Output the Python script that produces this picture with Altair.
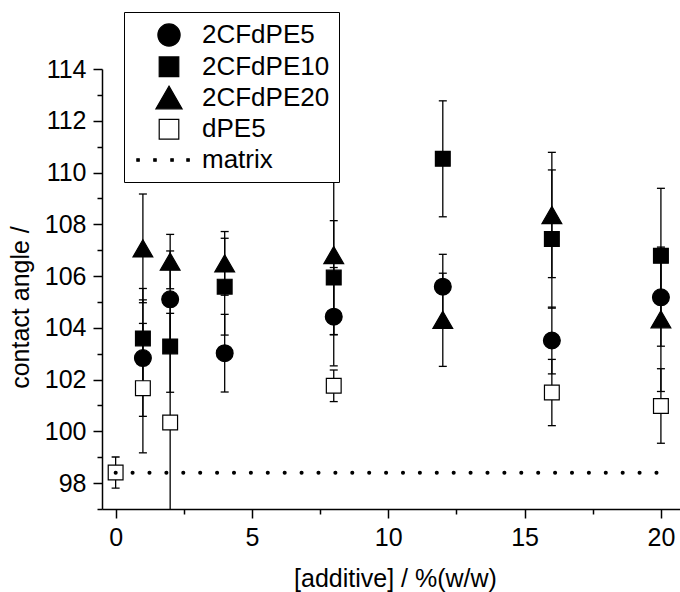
import altair as alt
import pandas as pd

# ---- data ----
series_names = ["2CFdPE5", "2CFdPE10", "2CFdPE20", "dPE5", "matrix"]

x_cf = [1, 2, 4, 8, 12, 16, 20]
y_cf5 = [102.83, 105.10, 103.02, 104.43, 105.59, 103.51, 105.18]
e_cf5 = [2.25, 1.87, 1.50, 1.90, 1.25, 1.29, 1.89]
y_cf10 = [103.59, 103.28, 105.59, 105.94, 110.53, 107.43, 106.78]
e_cf10 = [1.93, 1.77, 1.87, 2.20, 2.24, 2.67, 2.61]
y_cf20 = [107.07, 106.56, 106.49, 106.81, 104.31, 108.36, 104.33]
e_cf20 = [2.10, 1.05, 1.23, 3.08, 1.80, 2.42, 2.79]

x_dpe5 = [0, 1, 2, 8, 16, 20]
y_dpe5 = [98.41, 101.67, 100.34, 101.76, 101.50, 100.98]
e_dpe5 = [0.60, 2.50, 4.22, 0.61, 1.28, 1.44]

matrix_value = 98.4
matrix_x = [0, 20]

x_ticks = [0, 5, 10, 15, 20]
x_minor = [2.5, 7.5, 12.5, 17.5]
y_ticks = [98, 100, 102, 104, 106, 108, 110, 112, 114]
y_minor = [97, 99, 101, 103, 105, 107, 109, 111, 113]

# ---- tables ----
rows = []
for name, xs, ys, es in [
    ("2CFdPE5", x_cf, y_cf5, e_cf5),
    ("2CFdPE10", x_cf, y_cf10, e_cf10),
    ("2CFdPE20", x_cf, y_cf20, e_cf20),
    ("dPE5", x_dpe5, y_dpe5, e_dpe5),
]:
    for xv, yv, ev in zip(xs, ys, es):
        rows.append({"series": name, "x": xv, "y": yv, "lo": yv - ev, "hi": yv + ev})
df = pd.DataFrame(rows)

caps = pd.concat([
    df[["series", "x", "lo"]].rename(columns={"lo": "v"}),
    df[["series", "x", "hi"]].rename(columns={"hi": "v"}),
])

df_matrix = pd.DataFrame({"x": [matrix_x[0]], "x2": [matrix_x[1]], "y": [matrix_value]})

FONT = "Liberation Sans"

# custom symbol paths (unit = sqrt(size)/2)
circle_path = "M0.84,0A0.84,0.84 0 1,1 -0.84,0A0.84,0.84 0 1,1 0.84,0Z"
square_path = "M-0.74,-0.74L0.74,-0.74L0.74,0.74L-0.74,0.74Z"
tri_path = "M0,-0.857L0.99,0.857L-0.99,0.857Z"
dots = []
for c in [-2.34, -1.06, 0.23, 1.44]:
    dots.append("M%.2f,-0.09h0.18v0.18h-0.18Z" % (c - 0.09))
dots_path = " ".join(dots)

shape_range = [circle_path, square_path, tri_path, square_path, dots_path]
fill_range = ["black", "black", "black", "white", "black"]
stroke_range = ["black"] * 5

xscale = alt.Scale(domain=[-0.5, 20.7], nice=False, zero=False)
yscale = alt.Scale(domain=[97, 114], nice=False, zero=False)

legend = alt.Legend(
    title=None,
    orient="none",
    legendX=22,
    legendY=-57,
    padding=9,
    strokeColor="black",
    fillColor="white",
    symbolSize=700,
    symbolStrokeColor="black",
    symbolStrokeWidth=1.2,
    symbolOffset=22,
    labelOffset=19,
    rowPadding=3.75,
    labelFont=FONT,
    labelFontSize=26,
    labelColor="black",
    cornerRadius=0,
)

main_x = alt.Axis(values=x_ticks, format="d", tickSize=9, labelPadding=7,
                  title="[additive] / %(w/w)", titleX=293, titleY=77,
                  titleBaseline="alphabetic", titleAlign="center")
main_y = alt.Axis(values=y_ticks, format="d", tickSize=9, labelPadding=7,
                  title="contact angle /", titleAngle=270, titleX=-74, titleY=238,
                  titleBaseline="alphabetic", titleAlign="center")
minor_x = alt.Axis(values=x_minor, labels=False, tickSize=5, domain=False, title=None, orient="bottom")
minor_y = alt.Axis(values=y_minor, labels=False, tickSize=5, domain=False, title=None, orient="left")

rules = alt.Chart(df).mark_rule(color="black", strokeWidth=1.3, clip=True).encode(
    x=alt.X("x:Q", scale=xscale, axis=main_x),
    y=alt.Y("lo:Q", scale=yscale, axis=main_y),
    y2="hi:Q",
)

cap_layer = alt.Chart(caps).mark_tick(orient="horizontal", size=8, thickness=1.3,
                                      color="black", opacity=1, clip=True).encode(
    x=alt.X("x:Q", scale=xscale, axis=minor_x),
    y=alt.Y("v:Q", scale=yscale, axis=minor_y),
)

points = alt.Chart(df).mark_point(filled=False, opacity=1, fillOpacity=1,
                                  strokeWidth=1.2, size=400).encode(
    x=alt.X("x:Q", scale=xscale, axis=None),
    y=alt.Y("y:Q", scale=yscale, axis=None),
    shape=alt.Shape("series:N", scale=alt.Scale(domain=series_names, range=shape_range), legend=legend),
    fill=alt.Fill("series:N", scale=alt.Scale(domain=series_names, range=fill_range), legend=legend),
    stroke=alt.Stroke("series:N", scale=alt.Scale(domain=series_names, range=stroke_range), legend=legend),
)

matrix = alt.Chart(df_matrix).mark_rule(color="black", strokeWidth=4, strokeDash=[0.1, 16.8],
                                        strokeCap="round").encode(
    x=alt.X("x:Q", scale=xscale, axis=None),
    x2="x2:Q",
    y=alt.Y("y:Q", scale=yscale, axis=None),
)

chart = alt.layer(rules, cap_layer, points, matrix).resolve_axis(
    x="independent", y="independent"
).properties(
    width=578,
    height=440,
    padding={"left": 102, "top": 69, "right": 0, "bottom": 83},
    autosize=alt.AutoSizeParams(type="none"),
).configure_view(stroke=None).configure_axis(
    grid=False,
    domainColor="black",
    domainWidth=1.5,
    tickColor="black",
    tickWidth=1.5,
    labelFont=FONT,
    labelFontSize=25,
    labelColor="black",
    titleFont=FONT,
    titleFontSize=25,
    titleFontWeight="normal",
    titleColor="black",
)

chart.save("out.html", embed_options={"renderer": "svg", "actions": False})
